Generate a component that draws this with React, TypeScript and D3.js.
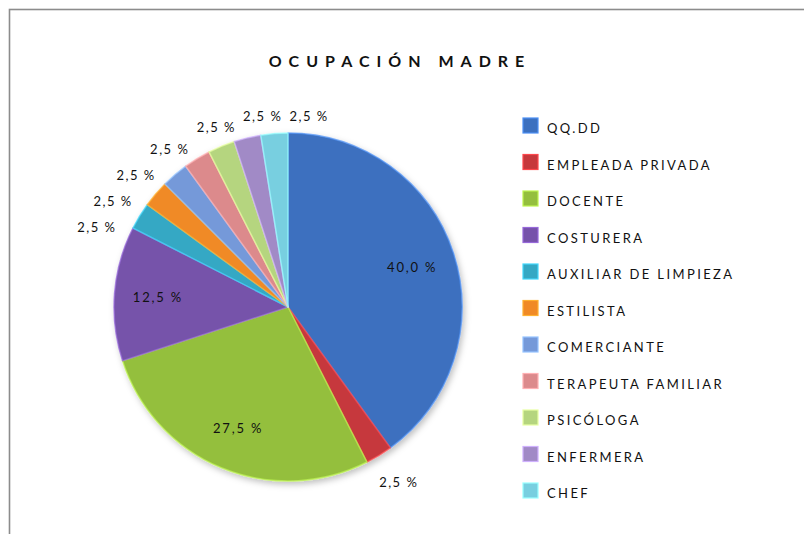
import React, { useRef, useEffect } from 'react';
import * as d3 from 'd3';

// chart data
const categories = [
  'QQ.DD',
  'EMPLEADA PRIVADA',
  'DOCENTE',
  'COSTURERA',
  'AUXILIAR DE LIMPIEZA',
  'ESTILISTA',
  'COMERCIANTE',
  'TERAPEUTA FAMILIAR',
  'PSICÓLOGA',
  'ENFERMERA',
  'CHEF',
];
const percents = [40, 2.5, 27.5, 12.5, 2.5, 2.5, 2.5, 2.5, 2.5, 2.5, 2.5];
const sliceColors = [
  '#3c70bf', '#c6383c', '#94bf3e', '#7652aa', '#34a8c4', '#f08a26',
  '#7599d9', '#dc8a8c', '#b5d57f', '#a18ac6', '#78cfe0',
];
const title = 'OCUPACIÓN MADRE';

const width = 804;
const height = 534;

const App = () => {
  const svgRef = useRef<SVGSVGElement>(null);

  useEffect(() => {
    const svg = d3.select(svgRef.current);
    svg.selectAll('*').remove();

    const data = categories.map((name, i) => ({ name, value: percents[i], color: sliceColors[i] }));
    const es = d3.formatLocale({ decimal: ',', thousands: '.', grouping: [3], currency: ['', ''] });
    const fmt = es.format('.1f');
    const font = 'Lato, "Open Sans", sans-serif';

    // frame
    svg.append('rect')
      .attr('x', 9.5).attr('y', 9.5)
      .attr('width', width + 20).attr('height', height + 20)
      .attr('fill', '#fff')
      .attr('stroke', '#8c8c8c')
      .attr('stroke-width', 1.6);

    svg.append('text')
      .attr('x', 400).attr('y', 60)
      .attr('text-anchor', 'middle')
      .attr('dominant-baseline', 'central')
      .attr('font-family', font)
      .attr('font-weight', 'bold')
      .attr('font-size', 16)
      .attr('letter-spacing', 7)
      .attr('fill', '#111')
      .text(title);

    const defs = svg.append('defs');
    const shadow = defs.append('filter').attr('id', 'pieShadow')
      .attr('x', '-20%').attr('y', '-20%').attr('width', '140%').attr('height', '140%');
    shadow.append('feDropShadow')
      .attr('dx', 2).attr('dy', 3).attr('stdDeviation', 3)
      .attr('flood-color', '#000').attr('flood-opacity', 0.25);

    const cx = 288;
    const cy = 307;
    const radius = 174;

    const pie = d3.pie<any>().sort(null).value(d => d.value);
    const arcs = pie(data);
    const arc = d3.arc<any>().innerRadius(0).outerRadius(radius);

    const g = svg.append('g').attr('transform', `translate(${cx},${cy})`);

    g.append('g').attr('filter', 'url(#pieShadow)')
      .selectAll('path')
      .data(arcs)
      .join('path')
      .attr('d', arc)
      .attr('fill', d => d.data.color)
      .attr('stroke', d => d3.color(d.data.color)!.brighter(0.7).formatHex())
      .attr('stroke-opacity', 0.7)
      .attr('stroke-width', 1.5)
      .attr('stroke-linejoin', 'round');

    // inside labels
    const inner = d3.arc<any>().innerRadius(radius * 0.75).outerRadius(radius * 0.75);
    g.append('g')
      .selectAll('text')
      .data(arcs.filter(d => d.data.value >= 5))
      .join('text')
      .attr('transform', d => `translate(${inner.centroid(d)})`)
      .attr('text-anchor', 'middle')
      .attr('dominant-baseline', 'central')
      .attr('font-family', font)
      .attr('font-size', 13)
      .attr('letter-spacing', 1.8)
      .attr('fill', '#111')
      .text(d => `${fmt(d.data.value)} %`);

    // outside labels, spread apart so they don't collide
    const lw = 46;
    const lh = 26;
    const r0 = 192;
    const outside = arcs.filter(d => d.data.value < 5)
      .map(d => ({ d, a: (d.startAngle + d.endAngle) / 2 }));
    const place = (a: number) => [
      Math.sin(a) * r0 + Math.sin(a) * 20,
      -Math.cos(a) * r0 - Math.cos(a) * 6 + 6,
    ];
    for (let it = 0; it < 600; it++) {
      for (let i = 0; i < outside.length - 1; i++) {
        const p = place(outside[i].a);
        const q = place(outside[i + 1].a);
        if (Math.abs(p[0] - q[0]) < lw && Math.abs(p[1] - q[1]) < lh) {
          outside[i].a -= 0.002;
          outside[i + 1].a += 0.002;
        }
      }
    }
    g.append('g')
      .selectAll('text')
      .data(outside)
      .join('text')
      .attr('transform', o => `translate(${place(o.a)})`)
      .attr('text-anchor', 'middle')
      .attr('dominant-baseline', 'central')
      .attr('font-family', font)
      .attr('font-size', 13)
      .attr('letter-spacing', 1.5)
      .attr('fill', '#111')
      .text(o => `${fmt(o.d.data.value)} %`);

    // legend
    const rowY = d3.scalePoint().domain(categories).range([127, 492]);
    const legend = svg.append('g')
      .selectAll('g')
      .data(data)
      .join('g')
      .attr('transform', d => `translate(523,${rowY(d.name)})`);
    legend.append('rect')
      .attr('x', 0).attr('y', -9)
      .attr('width', 15).attr('height', 15)
      .attr('fill', d => d.color)
      .attr('stroke', d => d3.color(d.color)!.brighter(0.7).formatHex())
      .attr('stroke-width', 1.2);
    legend.append('text')
      .attr('x', 24).attr('y', 1)
      .attr('dominant-baseline', 'central')
      .attr('font-family', font)
      .attr('font-size', 13)
      .attr('letter-spacing', 2.4)
      .attr('fill', '#111')
      .text(d => d.name);
  }, []);

  return (
    <svg
      ref={svgRef}
      width={width}
      height={height}
      style={{ position: 'absolute', left: 0, top: 0, background: '#fff' }}
    />
  );
};

export default App;
